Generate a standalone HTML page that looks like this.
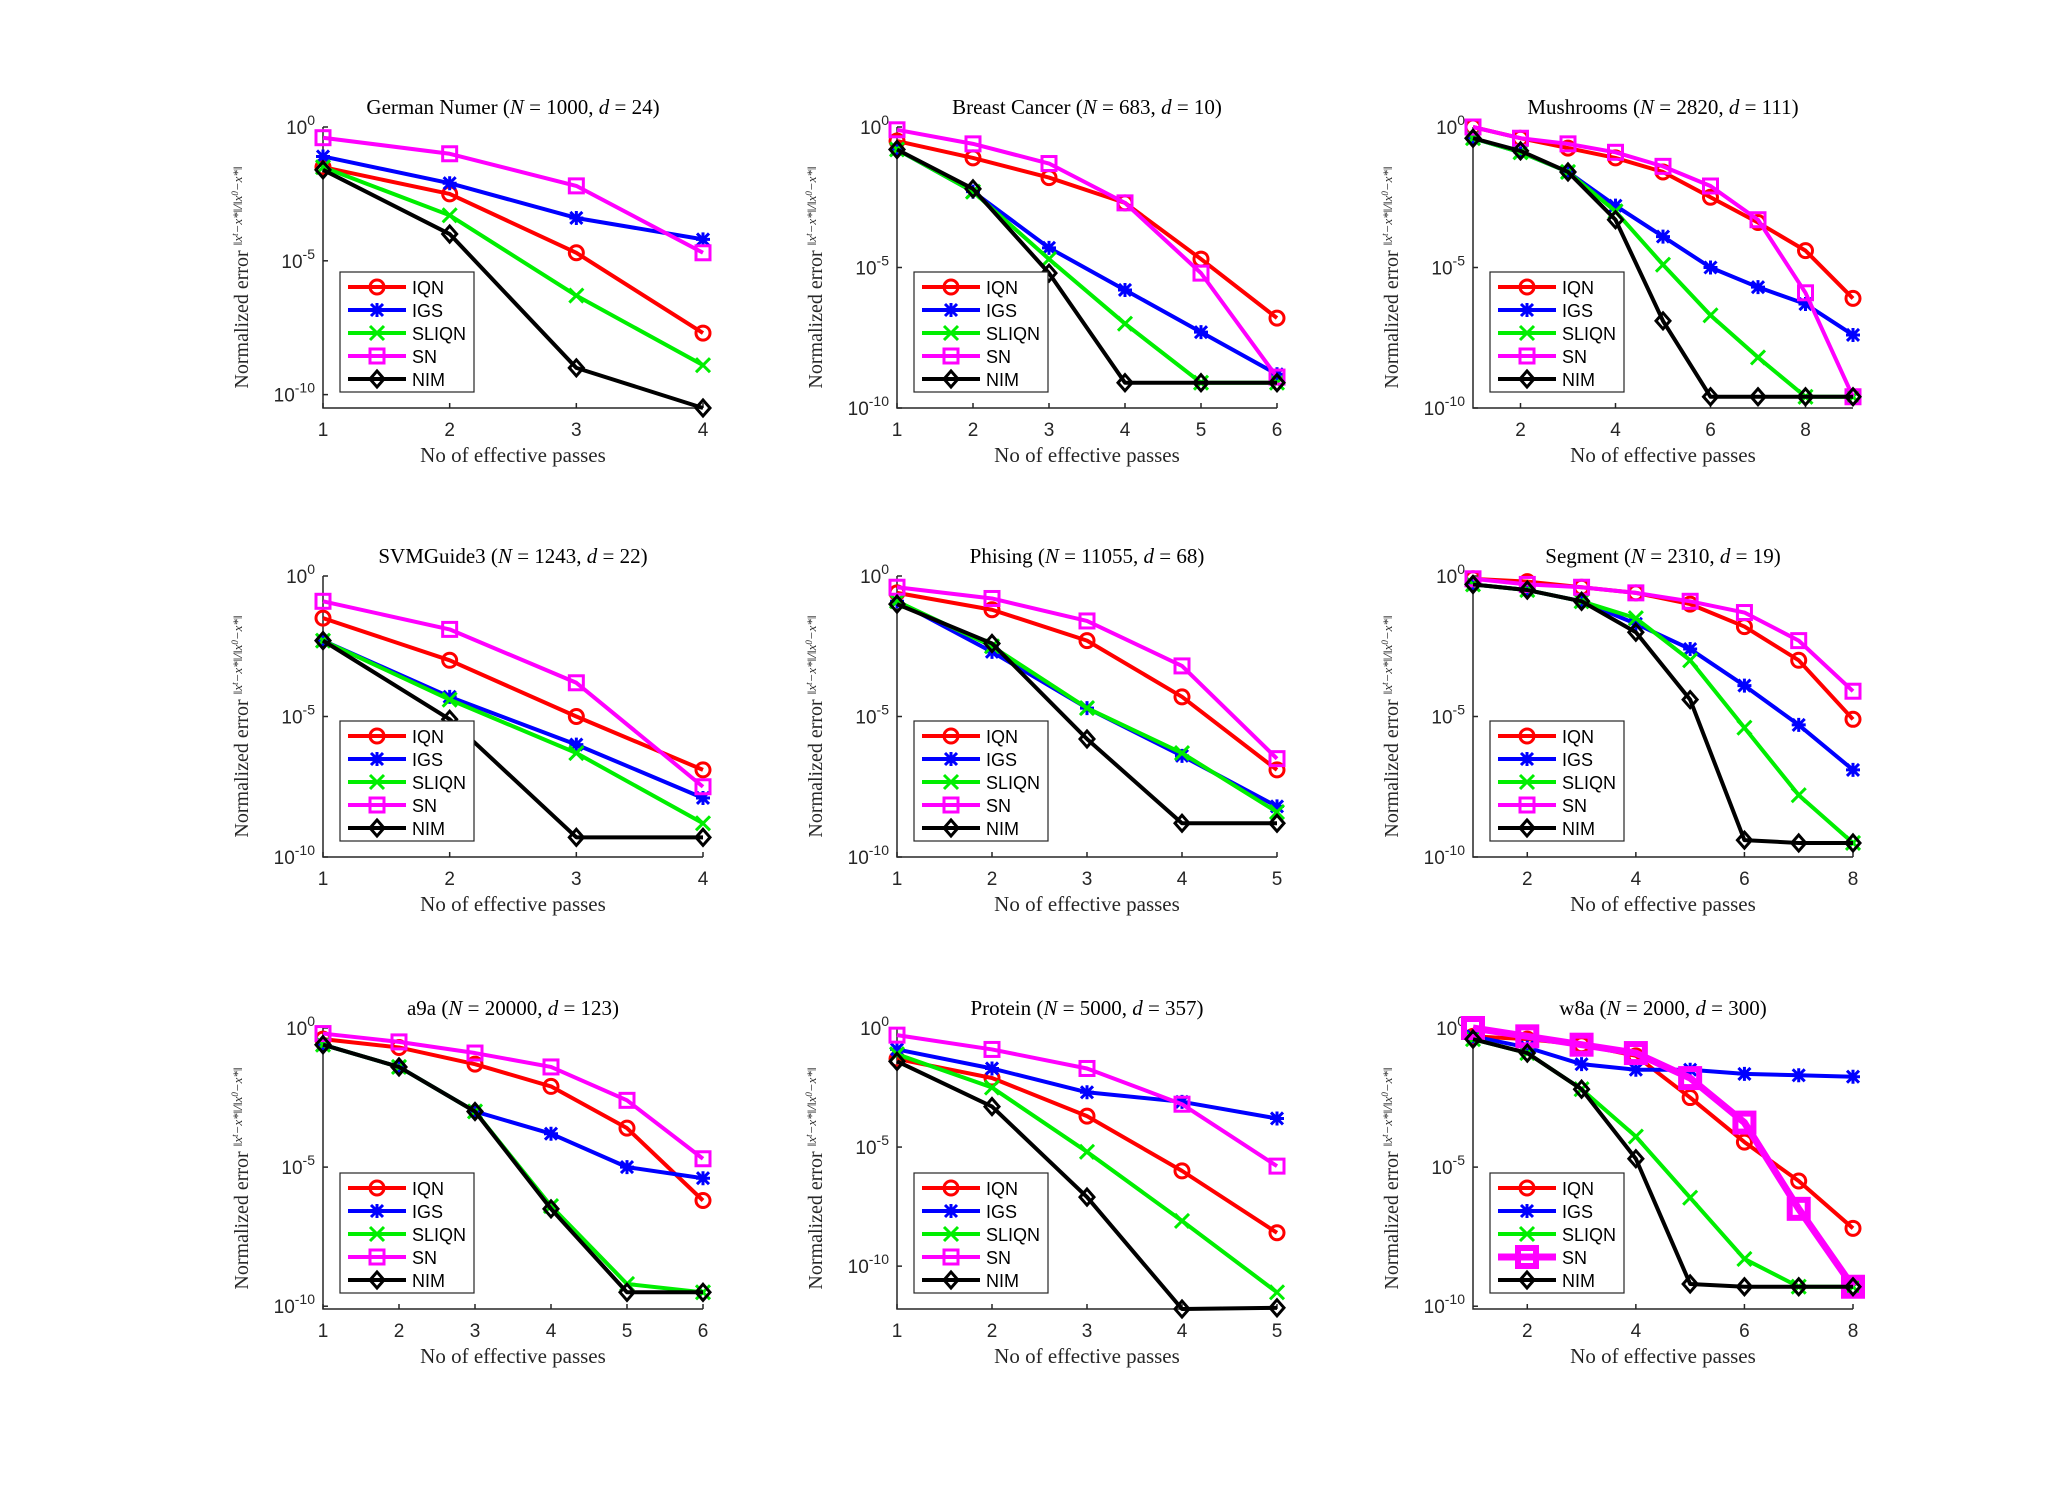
<!DOCTYPE html>
<html><head><meta charset="utf-8">
<style>
html,body{margin:0;padding:0;background:#fff;}
svg{display:block;}
.t{font-family:"Liberation Serif",serif;}
.s{font-family:"Liberation Sans",sans-serif;}
</style></head>
<body>
<svg id="fig" width="2048" height="1504" viewBox="0 0 2048 1504" xmlns="http://www.w3.org/2000/svg"></svg>
<script>
const titles=["German Numer","Breast Cancer","Mushrooms","SVMGuide3","Phising","Segment","a9a","Protein","w8a"];
const titleN=["1000","683","2820","1243","11055","2310","20000","5000","2000"];
const titleD=["24","10","111","22","68","19","123","357","300"];
const seriesNames=["IQN","IGS","SLIQN","SN","NIM"];
const xMax=[4,6,9,4,5,8,6,5,8];
const yMin=[-10.5,-10,-10,-10,-10,-10,-10.1,-11.8,-10.1];
const xTicks=[[1,2,3,4],[1,2,3,4,5,6],[2,4,6,8],[1,2,3,4],[1,2,3,4,5],[2,4,6,8],[1,2,3,4,5,6],[1,2,3,4,5],[2,4,6,8]];
// log10 normalized error values per panel per series
const iqn=[[-1.5,-2.5,-4.7,-7.7],[-0.5,-1.1,-1.8,-2.7,-4.7,-6.8],[0,-0.4,-0.75,-1.1,-1.6,-2.5,-3.4,-4.4,-6.1],[-1.5,-3.0,-5.0,-6.9],[-0.6,-1.2,-2.3,-4.3,-6.9],[-0.1,-0.2,-0.4,-0.6,-1.0,-1.8,-3.0,-5.1],[-0.4,-0.7,-1.3,-2.1,-3.6,-6.2],[-1.3,-2.1,-3.7,-6.0,-8.6],[-0.3,-0.4,-0.6,-1.0,-2.5,-4.1,-5.5,-7.2]];
const igs=[[-1.1,-2.1,-3.4,-4.2],[-0.8,-2.3,-4.3,-5.8,-7.3,-8.8],[-0.4,-0.9,-1.6,-2.8,-3.9,-5.0,-5.7,-6.3,-7.4],[-2.3,-4.3,-6.0,-7.9],[-0.9,-2.7,-4.7,-6.4,-8.2],[-0.3,-0.5,-0.9,-1.7,-2.6,-3.9,-5.3,-6.9],[-0.6,-1.4,-3.0,-3.8,-5.0,-5.4],[-0.9,-1.7,-2.7,-3.1,-3.8],[-0.3,-0.7,-1.3,-1.5,-1.5,-1.65,-1.7,-1.75]];
const sliqn=[[-1.5,-3.3,-6.3,-8.9],[-0.8,-2.3,-4.7,-7.0,-9.1,-9.1],[-0.4,-0.9,-1.6,-3.0,-4.9,-6.7,-8.2,-9.6,-9.6],[-2.3,-4.4,-6.3,-8.8],[-0.9,-2.5,-4.7,-6.3,-8.4],[-0.3,-0.5,-0.9,-1.5,-3.0,-5.4,-7.8,-9.5],[-0.6,-1.4,-3.0,-6.4,-9.2,-9.5],[-1.1,-2.5,-5.2,-8.1,-11.1],[-0.4,-0.9,-2.2,-3.9,-6.1,-8.3,-9.3,-9.3]];
const sn=[[-0.4,-1.0,-2.2,-4.7],[-0.1,-0.6,-1.3,-2.7,-5.2,-8.9],[0,-0.4,-0.6,-0.9,-1.4,-2.1,-3.3,-5.9,-9.6],[-0.9,-1.9,-3.8,-7.5],[-0.4,-0.8,-1.6,-3.2,-6.5],[-0.1,-0.3,-0.4,-0.6,-0.9,-1.3,-2.3,-4.1],[-0.2,-0.5,-0.9,-1.4,-2.6,-4.7],[-0.3,-0.9,-1.7,-3.2,-5.8],[0,-0.3,-0.6,-0.9,-1.8,-3.4,-6.5,-9.3]];
const nim=[[-1.6,-4.0,-9.0,-10.5],[-0.8,-2.2,-5.2,-9.1,-9.1,-9.1],[-0.4,-0.85,-1.6,-3.3,-6.9,-9.6,-9.6,-9.6,-9.6],[-2.3,-5.1,-9.3,-9.3],[-1.0,-2.4,-5.8,-8.8,-8.8],[-0.3,-0.5,-0.9,-2.0,-4.4,-9.4,-9.5,-9.5],[-0.6,-1.4,-3.0,-6.5,-9.5,-9.5],[-1.4,-3.3,-7.1,-11.8,-11.75],[-0.4,-0.9,-2.2,-4.7,-9.2,-9.3,-9.3,-9.3]];
const allSeries=[iqn,igs,sliqn,sn,nim];
const colors=["#ff0000","#0000ff","#00ee00","#ff00ff","#000000"];
const markers=["circle","star","x","square","diamond"];

const NS="http://www.w3.org/2000/svg";
const svg=document.getElementById('fig');
function mk(tag,attrs,parent){const e=document.createElementNS(NS,tag);for(const k in attrs)e.setAttribute(k,attrs[k]);(parent||svg).appendChild(e);return e;}
const colL=[323,897,1473], rowT=[127,576,1028], W=380, H=281;

function marker(g,type,x,y,c,big){
  const r=big?9:7;let m;
  if(type==="circle") m=mk('circle',{cx:x,cy:y,r:r,fill:'none',stroke:c,'stroke-width':3},g);
  else if(type==="square") m=mk('rect',{x:x-r,y:y-r,width:2*r,height:2*r,fill:'none',stroke:c,'stroke-width':big?6:3},g);
  else if(type==="diamond") m=mk('path',{d:`M${x} ${y-r-1}L${x+r} ${y}L${x} ${y+r+1}L${x-r} ${y}Z`,fill:'none',stroke:c,'stroke-width':3},g);
  else if(type==="x") m=mk('path',{d:`M${x-r} ${y-r}L${x+r} ${y+r}M${x-r} ${y+r}L${x+r} ${y-r}`,stroke:c,'stroke-width':3},g);
  else m=mk('path',{d:`M${x-r} ${y}L${x+r} ${y}M${x} ${y-r}L${x} ${y+r}M${x-6} ${y-6}L${x+6} ${y+6}M${x-6} ${y+6}L${x+6} ${y-6}`,stroke:c,'stroke-width':3},g);
  return m;
}

for(let p=0;p<9;p++){
  const L=colL[p%3], T=rowT[Math.floor(p/3)];
  const g=mk('g',{});
  
  
  const xs=v=>L+(v-1)/(xMax[p]-1)*W;
  const ys=v=>T+(0-v)/(0-yMin[p])*H;
  const tt=mk('text',{x:L+W/2,y:T-13,'text-anchor':'middle','font-size':21,class:'t'},g);
  
  
  tt.innerHTML=`${titles[p]} (<tspan font-style="italic">N</tspan> = ${titleN[p]}, <tspan font-style="italic">d</tspan> = ${titleD[p]})`;
  const ax=mk('path',{d:`M${L} ${T}L${L} ${T+H}L${L+W} ${T+H}`,fill:'none',stroke:'#262626','stroke-width':1.5},g);
  
  
  for(const d of [0,-5,-10]){
    const y=ys(d);
    mk('line',{x1:L,y1:y,x2:L+5,y2:y,stroke:'#262626','stroke-width':1.5},g);
    const t=mk('text',{x:L-8,y:y+7,'text-anchor':'end','font-size':19,class:'s',fill:'#262626'},g);
    
    
    t.innerHTML=`10<tspan dy="-9" font-size="14">${d}</tspan>`;
  }
  for(const v of xTicks[p]){
    const x=xs(v);
    mk('line',{x1:x,y1:T+H,x2:x,y2:T+H-5,stroke:'#262626','stroke-width':1.5},g);
    const t=mk('text',{x:x,y:T+H+28,'text-anchor':'middle','font-size':19,class:'s',fill:'#262626'},g);
    
    
    t.textContent=v;
  }
  const xl=mk('text',{x:L+W/2,y:T+H+54,'text-anchor':'middle','font-size':21,class:'t',fill:'#262626'},g);
  
  
  xl.textContent='No of effective passes';
  const yl=mk('text',{transform:`translate(${L-75},${T+H/2+10}) rotate(-90)`,'text-anchor':'middle','font-size':20,class:'t',fill:'#262626'},g);
  
  
  yl.innerHTML=`Normalized error <tspan font-size="13" font-style="italic" dy="-6">‖x<tspan dy="-4" font-size="9">t</tspan><tspan dy="4">−x*‖/‖x</tspan><tspan dy="-4" font-size="9">0</tspan><tspan dy="4">−x*‖</tspan></tspan>`;
  for(let s=0;s<5;s++){
    const data=allSeries[s][p];
    const big=(p===8&&s===3);
    const pts=data.map((v,i)=>[xs(i+1),ys(v)]);
    const sg=mk('g',{},g);
    
    
    mk('polyline',{points:pts.map(q=>q.join(',')).join(' '),fill:'none',stroke:colors[s],'stroke-width':big?7:4,'stroke-linejoin':'round'},sg);
    pts.forEach(q=>marker(sg,markers[s],q[0],q[1],colors[s],big));
  }
  const lg=mk('g',{},g);
  
  
  const lx=L+17, ly=T+145;
  mk('rect',{x:lx,y:ly,width:134,height:120,fill:'#fff',stroke:'#262626','stroke-width':1.2},lg);
  for(let s=0;s<5;s++){
    const y=ly+15+s*23;
    const e=mk('g',{},lg);
    
    
    const big=(p===8&&s===3);
    mk('line',{x1:lx+8,y1:y,x2:lx+66,y2:y,stroke:colors[s],'stroke-width':big?7:4},e);
    marker(e,markers[s],lx+37,y,colors[s],big);
    const t=mk('text',{x:lx+72,y:y+7,'font-size':18,class:'s',fill:'#000'},e);
    t.textContent=seriesNames[s];
  }
}
</script>
</body></html>
